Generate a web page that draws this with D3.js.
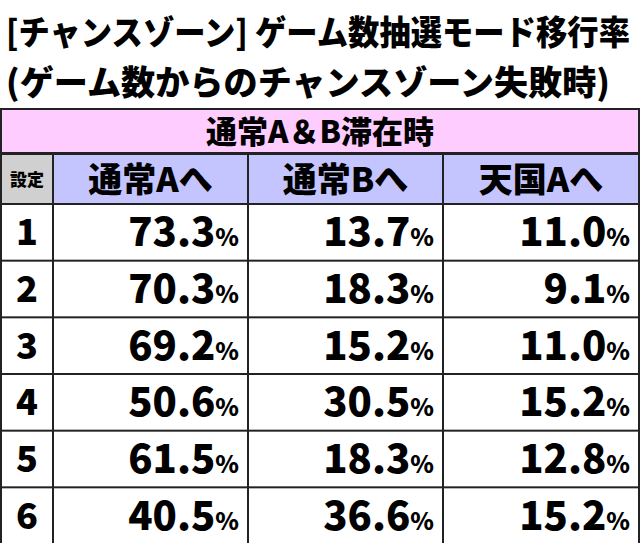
<!DOCTYPE html>
<html><head><meta charset="utf-8">
<script src="https://cdn.jsdelivr.net/npm/d3@7"></script>
<style>body{margin:0;background:#fff}svg{display:block}</style>
</head><body>
<script>
var titleLines = ["[チャンスゾーン] ゲーム数抽選モード移行率", "(ゲーム数からのチャンスゾーン失敗時)"]
var groupLabel = "通常A＆B滞在時"
var settings = ["1","2","3","4","5","6"]
var columns = ["通常Aへ","通常Bへ","天国Aへ"]
var toA = [73.3,70.3,69.2,50.6,61.5,40.5]
var toB = [13.7,18.3,15.2,30.5,18.3,36.6]
var toHeaven = [11.0,9.1,11.0,15.2,12.8,15.2]
var series = [toA,toB,toHeaven]

var W=640,H=543
var svg=d3.select("body").append("svg").attr("width",W).attr("height",H)
var font="'Noto Sans CJK JP','Noto Sans',sans-serif"

svg.selectAll(".title").data(titleLines).enter().append("text")
	.attr("x",6).attr("y",function(d,i){return 45+i*50})
	.attr("font-family",font).attr("font-weight",900).attr("font-size",34)
	.attr("textLength",function(d,i){return i==0?624:604}).attr("lengthAdjust","spacingAndGlyphs")
	.text(function(d){return d})

var tableTop=108
svg.append("rect").attr("x",0).attr("y",tableTop).attr("width",W).attr("height",H-tableTop).attr("fill","#222")

var xCol=d3.scaleOrdinal().domain([0,1,2,3]).range([0,54,249,444])
var colW=[52,193,193,194]
var yRow=d3.scaleBand().domain(settings).range([205,H+2]).paddingInner(0)

// group header
svg.append("rect").attr("x",2).attr("y",110).attr("width",W-4).attr("height",42).attr("fill","#ffccff")
svg.append("text").attr("x",W/2).attr("y",143).attr("text-anchor","middle")
	.attr("font-family",font).attr("font-weight",900).attr("font-size",31).text(groupLabel)

// column header
svg.append("rect").attr("x",2).attr("y",155).attr("width",50).attr("height",48).attr("fill","#d0d0d0")
svg.append("text").attr("x",27).attr("y",186).attr("text-anchor","middle")
	.attr("font-family",font).attr("font-weight",900).attr("font-size",17).text("設定")
columns.forEach(function(c,i){
	svg.append("rect").attr("x",xCol(i+1)).attr("y",155).attr("width",colW[i+1]).attr("height",48).attr("fill","#c4c4ff")
	svg.append("text").attr("x",xCol(i+1)+colW[i+1]/2).attr("y",192).attr("text-anchor","middle")
		.attr("font-family",font).attr("font-weight",900).attr("font-size",34).text(c)
})

settings.forEach(function(s,r){
	var y=yRow(s),h=yRow.bandwidth()-2
	svg.append("rect").attr("x",2).attr("y",y).attr("width",50).attr("height",h).attr("fill","#fff")
	svg.append("text").attr("x",27).attr("y",y+h/2+13).attr("text-anchor","middle")
		.attr("font-family",font).attr("font-weight",900).attr("font-size",36).text(s)
	series.forEach(function(vals,i){
		svg.append("rect").attr("x",xCol(i+1)).attr("y",y).attr("width",colW[i+1]).attr("height",h).attr("fill","#fff")
		var t=svg.append("text").attr("x",xCol(i+1)+colW[i+1]-8).attr("y",y+h/2+14).attr("text-anchor","end")
			.attr("font-family",font).attr("font-weight",900)
		t.append("tspan").attr("font-size",40).text(vals[r].toFixed(1))
		t.append("tspan").attr("font-size",24).text("%")
	})
})
</script>
</body></html>
